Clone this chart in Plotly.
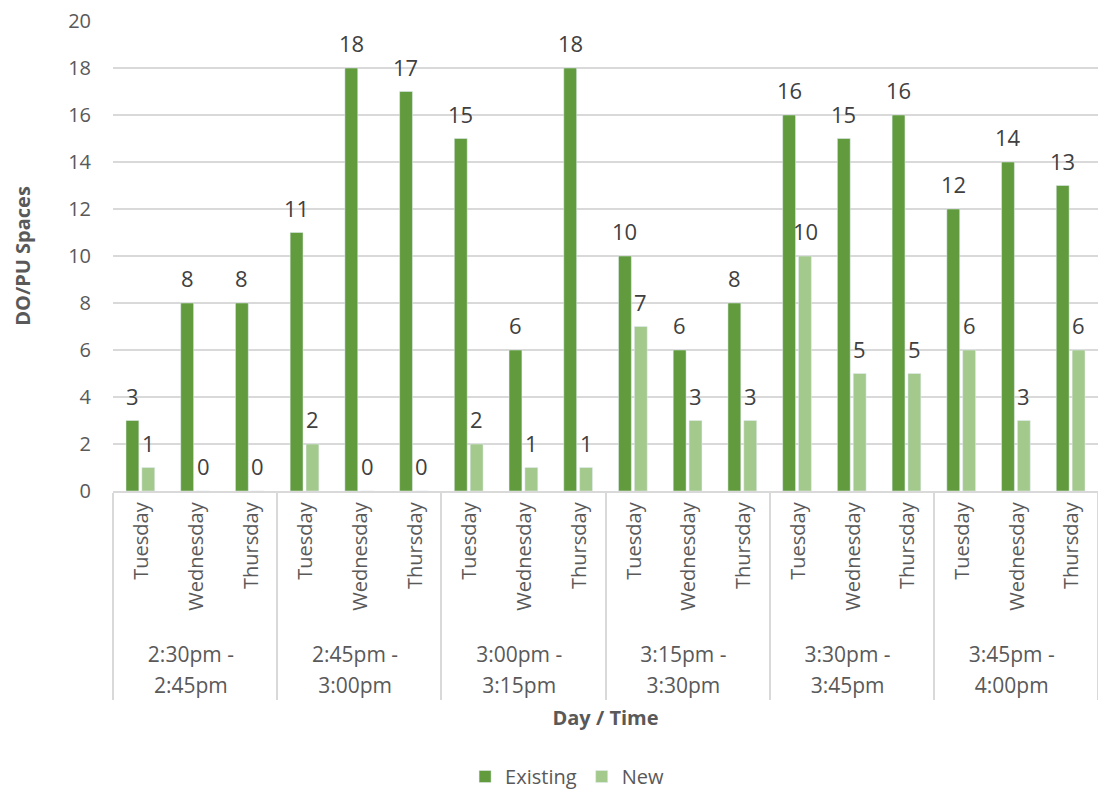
import plotly.graph_objects as go

groups = ["2:30pm -<br>2:45pm", "2:45pm -<br>3:00pm", "3:00pm -<br>3:15pm",
          "3:15pm -<br>3:30pm", "3:30pm -<br>3:45pm", "3:45pm -<br>4:00pm"]
days = ["Tuesday", "Wednesday", "Thursday"]
existing = [3, 8, 8, 11, 18, 17, 15, 6, 18, 10, 6, 8, 16, 15, 16, 12, 14, 13]
new = [1, 0, 0, 2, 0, 0, 2, 1, 1, 7, 3, 3, 10, 5, 5, 6, 3, 6]

FONT = "Open Sans"
TXT = "#595959"
LBL = "#404040"
FS = 20

xg = ['<span style="font-size:21px">' + g.replace("<br>", '</span><br><span style="font-size:21px">') + "</span>"
      for g in groups for _ in days]
xd = ['<span style="font-size:20px">\u00a0' + d + "</span>" for _ in groups for d in days]

fig = go.Figure()
fig.add_trace(go.Bar(x=[xg, xd], y=existing, name="Existing", marker_color="#629b3d"))
fig.add_trace(go.Bar(x=[xg, xd], y=new, name="New", marker_color="#a4c98c"))

# value labels above each bar
annotations = []
for i, (e, n) in enumerate(zip(existing, new)):
    for v, dx in ((e, -8), (n, 8)):
        annotations.append(dict(x=i, y=v, xref="x", yref="y", text=str(v), showarrow=False,
                                xshift=dx, yshift=25, yanchor="middle",
                                font=dict(size=22, color=LBL, family=FONT)))

fig.update_layout(
    width=1098, height=796,
    margin=dict(l=113, r=0, t=21, b=305),
    plot_bgcolor="white", paper_bgcolor="white",
    barmode="group", bargap=0.42, bargroupgap=0.19,
    font=dict(family=FONT, size=FS, color=TXT),
    annotations=annotations,
    legend=dict(orientation="h", x=0.461, xanchor="center", xref="paper",
                y=0.0, yanchor="bottom", yref="container",
                font=dict(size=FS, color=TXT)),
    xaxis=dict(type="multicategory", tickangle=-90, showline=True, linecolor="#d9d9d9",
               linewidth=1.5, showdividers=True, dividercolor="#d9d9d9", dividerwidth=1.5,
               ticks="outside", ticklen=15, tickcolor="rgba(0,0,0,0)",
               tickfont=dict(size=24, color=TXT), automargin=False,
               title=dict(text="<b>Day / Time</b>", font=dict(size=FS, color=TXT), standoff=13)),
    yaxis=dict(range=[0, 20], dtick=2, showgrid=True, gridcolor="#d9d9d9", gridwidth=1.5,
               zeroline=False, tickfont=dict(size=FS, color=TXT), ticks="outside",
               ticklen=17, tickcolor="rgba(0,0,0,0)", automargin=False,
               title=dict(text="<b>DO/PU Spaces</b>", font=dict(size=FS, color=TXT), standoff=32)),
)
fig.write_html("out.html")
